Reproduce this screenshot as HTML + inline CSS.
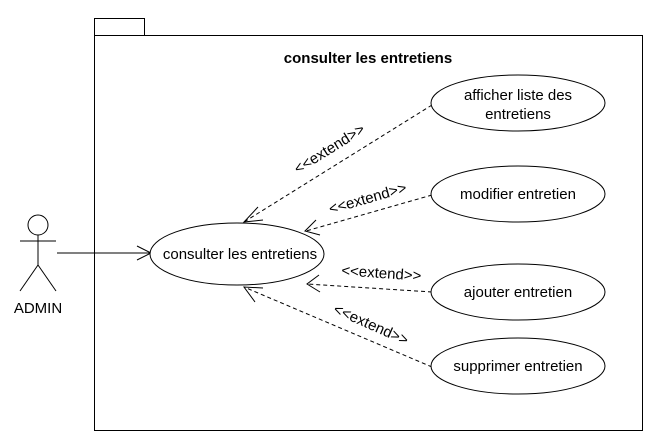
<!DOCTYPE html>
<html><head><style>body{margin:0;background:#fff}svg{display:block}text{font-family:"Liberation Sans",Arial,sans-serif;font-size:15px;fill:#000}</style></head><body>
<svg width="656" height="442" viewBox="0 0 656 442">
<rect x="94.5" y="18.5" width="50" height="17" fill="#fff" stroke="#000"/>
<rect x="94.5" y="35.5" width="548" height="395" fill="#fff" stroke="#000"/>
<text x="368" y="63" text-anchor="middle" font-weight="bold">consulter les entretiens</text>
<circle cx="38" cy="225" r="10" fill="#fff" stroke="#000"/>
<g stroke="#000" fill="none">
<line x1="38" y1="235" x2="38" y2="265"/><line x1="20" y1="241" x2="56" y2="241"/>
<line x1="38" y1="265" x2="20" y2="291"/><line x1="38" y1="265" x2="56" y2="291"/>
<line x1="57" y1="253" x2="150" y2="253"/><polyline points="137,246 151,253 137,260"/>
<g stroke-dasharray="4,3">
<line x1="432" y1="105" x2="244" y2="222"/><line x1="432" y1="195" x2="306" y2="231"/>
<line x1="432" y1="292" x2="307" y2="284"/><line x1="432" y1="367" x2="244" y2="287"/>
</g>
<polyline points="258,207 244,222 263,220"/><polyline points="316,220 305,231 320,235"/>
<polyline points="319,275 307,284 320,292"/><polyline points="255,302 244,287 263,288"/>
</g>
<ellipse cx="237" cy="254" rx="87" ry="31" fill="#fff" stroke="#000"/>
<text x="240" y="259" text-anchor="middle">consulter les entretiens</text>
<ellipse cx="518" cy="103" rx="87" ry="28" fill="#fff" stroke="#000"/>
<text x="518" y="100" text-anchor="middle">afficher liste des</text><text x="518" y="119" text-anchor="middle">entretiens</text>
<ellipse cx="518" cy="194" rx="87" ry="28" fill="#fff" stroke="#000"/>
<text x="518" y="199" text-anchor="middle">modifier entretien</text>
<ellipse cx="518" cy="292" rx="87" ry="28" fill="#fff" stroke="#000"/>
<text x="518" y="297" text-anchor="middle">ajouter entretien</text>
<ellipse cx="518" cy="366" rx="87" ry="28" fill="#fff" stroke="#000"/>
<text x="518" y="371" text-anchor="middle">supprimer entretien</text>
<text x="0" y="0" text-anchor="middle" transform="translate(332,153) rotate(-32)">&lt;&lt;extend&gt;&gt;</text>
<text x="0" y="0" text-anchor="middle" transform="translate(369,203) rotate(-16)">&lt;&lt;extend&gt;&gt;</text>
<text x="0" y="0" text-anchor="middle" transform="translate(381,278) rotate(4)">&lt;&lt;extend&gt;&gt;</text>
<text x="0" y="0" text-anchor="middle" transform="translate(369,329) rotate(24)">&lt;&lt;extend&gt;&gt;</text>
<text x="38" y="313" text-anchor="middle">ADMIN</text>
</svg>
</body></html>
